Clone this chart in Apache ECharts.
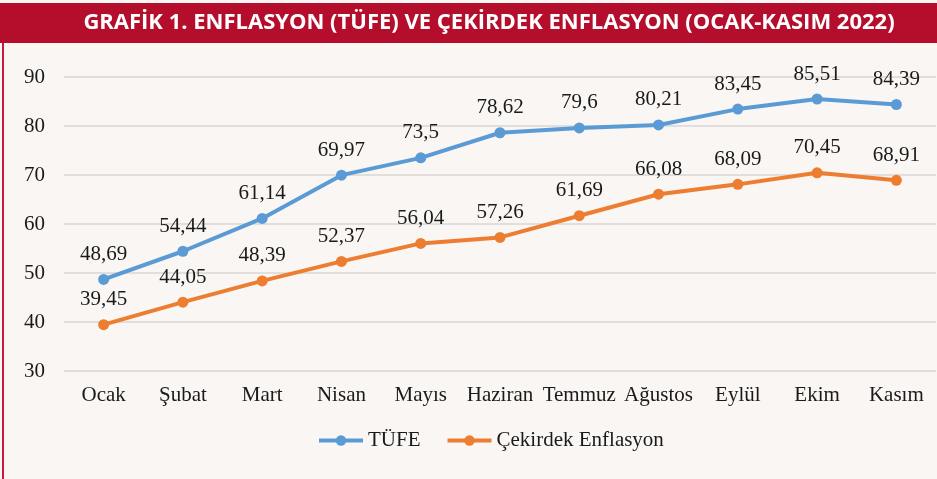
<!DOCTYPE html>
<html>
<head>
<meta charset="utf-8">
<script src="https://cdn.jsdelivr.net/npm/echarts@6/dist/echarts.min.js"></script>
<style>
  html, body { margin: 0; padding: 0; background: #faf6f3; }
  #chart { width: 937px; height: 479px; }
</style>
</head>
<body>
<div id="chart"></div>
<script>
const months = ['Ocak', 'Şubat', 'Mart', 'Nisan', 'Mayıs', 'Haziran', 'Temmuz', 'Ağustos', 'Eylül', 'Ekim', 'Kasım']
const tufe = [48.69, 54.44, 61.14, 69.97, 73.5, 78.62, 79.6, 80.21, 83.45, 85.51, 84.39]
const cekirdek = [39.45, 44.05, 48.39, 52.37, 56.04, 57.26, 61.69, 66.08, 68.09, 70.45, 68.91]
const seriesNames = ['TÜFE', 'Çekirdek Enflasyon']
const titleText = 'GRAFİK 1. ENFLASYON (TÜFE) VE ÇEKİRDEK ENFLASYON (OCAK-KASIM 2022)'

const serif = '"Liberation Serif", "DejaVu Serif", serif'

// data labels use Turkish decimal comma
const fmt = p => String(p.value).replace('.', ',')

function makeSeries(name, data, color) {
  return {
    name: name,
    type: 'line',
    data: data,
    symbol: 'circle',
    symbolSize: 11,
    lineStyle: { width: 4, color: color },
    itemStyle: { color: color },
    label: {
      show: true,
      position: 'top',
      distance: 9,
      formatter: fmt,
      fontFamily: serif,
      fontSize: 21,
      color: '#1a1a1a'
    },
    emphasis: { disabled: true }
  }
}

const chart = echarts.init(document.getElementById('chart'))
chart.setOption({
  backgroundColor: '#faf6f3',
  animation: false,
  graphic: [
    { type: 'rect', shape: { x: 0, y: 3, width: 937, height: 40 }, style: { fill: '#b50e2d' } },
    { type: 'rect', shape: { x: 2, y: 43, width: 2, height: 436 }, style: { fill: '#c8183b' } },
    {
      type: 'text', x: 489, y: 23,
      style: {
        text: titleText, fill: '#ffffff', align: 'center', verticalAlign: 'middle',
        font: 'bold 22px "Open Sans", "Noto Sans", sans-serif'
      }
    }
  ],
  legend: {
    data: seriesNames,
    top: 425,
    left: 312,
    itemWidth: 44,
    itemHeight: 13,
    itemGap: 25,
    lineStyle: { width: 4 },
    textStyle: { fontFamily: serif, fontSize: 21, color: '#1a1a1a' }
  },
  grid: { left: 64, right: 1, top: 77, bottom: 108 },
  xAxis: {
    type: 'category',
    data: months,
    boundaryGap: true,
    axisLine: { show: false },
    axisTick: { show: false },
    axisLabel: { interval: 0, fontFamily: serif, fontSize: 21, color: '#1a1a1a', margin: 14 }
  },
  yAxis: {
    type: 'value',
    min: 30,
    max: 90,
    interval: 10,
    axisLine: { show: false },
    axisTick: { show: false },
    axisLabel: { fontFamily: serif, fontSize: 21, color: '#1a1a1a', margin: 19 },
    splitLine: { lineStyle: { color: '#d9d6d3', width: 1.5 } }
  },
  series: [
    makeSeries(seriesNames[0], tufe, '#5b9bd5'),
    makeSeries(seriesNames[1], cekirdek, '#ed7d31')
  ]
})
</script>
</body>
</html>
